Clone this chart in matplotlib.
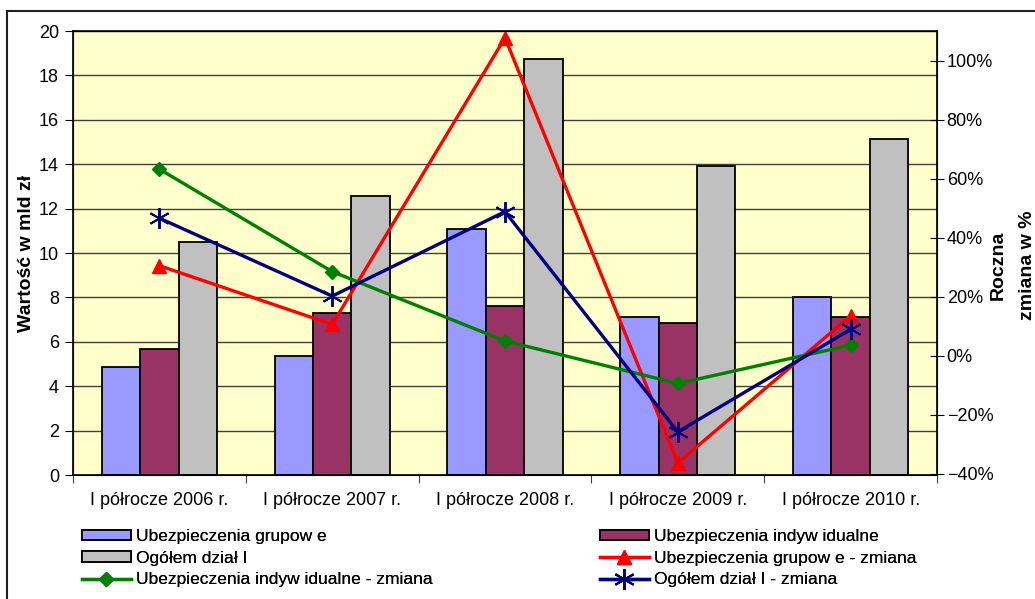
import numpy as np
import matplotlib
matplotlib.use("Agg")
from matplotlib import pyplot as plt
from matplotlib.patches import Patch
from matplotlib.lines import Line2D
from matplotlib.ticker import FixedLocator, PercentFormatter

categories = ["I półrocze 2006 r.", "I półrocze 2007 r.", "I półrocze 2008 r.",
              "I półrocze 2009 r.", "I półrocze 2010 r."]

# values in mld zl
grupowe = [4.85, 5.36, 11.07, 7.13, 8.03]
indywidualne = [5.67, 7.28, 7.63, 6.86, 7.12]
ogolem = [10.48, 12.58, 18.74, 13.93, 15.12]

# annual change in %
grupowe_zm = [30.5, 10.6, 107.7, -36.3, 13.5]
indyw_zm = [63.2, 28.5, 5.0, -9.4, 3.6]
ogolem_zm = [46.6, 20.2, 48.8, -25.8, 8.9]

labels = ["Ubezpieczenia grupow e", "Ubezpieczenia indyw idualne", "Ogółem dział I",
          "Ubezpieczenia grupow e - zmiana", "Ubezpieczenia indyw idualne - zmiana",
          "Ogółem dział I - zmiana"]

plt.rcParams["font.family"] = ["Liberation Sans", "DejaVu Sans"]
W, H = 1035, 599
fig = plt.figure(figsize=(W / 100, H / 100), dpi=100)
ax = fig.add_axes([73 / W, 1 - 475 / H, (937 - 73) / W, (475 - 31) / H])
ax.set_facecolor("#FFFFCC")
ax.set_axisbelow(True)

x = np.arange(len(categories))
bw = 0.222
bar_kw = dict(width=bw, edgecolor="black", linewidth=1.3)
ax.bar(x - bw, grupowe, color="#9999FF", **bar_kw)
ax.bar(x, indywidualne, color="#993366", **bar_kw)
ax.bar(x + bw, ogolem, color="#C0C0C0", **bar_kw)

ax.set_ylim(0, 20)
ax.set_xlim(-0.5, len(categories) - 0.5)
ax.set_yticks(np.arange(0, 21, 2))
ax.yaxis.grid(True, color="#404040", linewidth=1)
ax.xaxis.set_major_locator(FixedLocator(np.arange(-0.5, len(categories), 1.0)))
ax.xaxis.set_minor_locator(FixedLocator(x))
ax.set_xticklabels([])
ax.set_xticklabels(categories, minor=True)
ax.tick_params(axis="x", which="major", length=6, color="#404040")
ax.tick_params(axis="x", which="minor", length=0, pad=12, labelsize=13)
ax.tick_params(axis="y", length=6, labelsize=13, pad=4)
for s in ax.spines.values():
    s.set_linewidth(1.2)
ax.set_ylabel("Wartość w mld zł", fontsize=14, fontweight="bold")
ax.yaxis.set_label_coords(-38 / 864, 0.5)

ax2 = ax.twinx()
ax2.plot(x, grupowe_zm, color="#FF0000", lw=2.4, marker="^", ms=10)
ax2.plot(x, indyw_zm, color="#008000", lw=2.4, marker="D", ms=7)
ax2.plot(x, ogolem_zm, color="#000080", lw=2.4, marker=(6, 2, 0), ms=15, mew=1.4)
ax2.set_ylim(-40.4, 110)
ax2.set_yticks(np.arange(-40, 101, 20))
ax2.yaxis.set_major_formatter(PercentFormatter(decimals=0))
ax2.tick_params(axis="y", direction="inout", length=10, labelsize=13, pad=2)

fig.text(998 / W, 1 - 265 / H, "Roczna", rotation=90, fontsize=14,
         fontweight="bold", ha="center", va="center")
fig.text(1027 / W, 1 - 265 / H, "zmiana w %", rotation=90, fontsize=14,
         fontweight="bold", ha="center", va="center")

# figure frame (cropped)
fig.add_artist(Line2D([7 / W, 7 / W], [0, 1 - 11 / H], color="#202020", lw=1.5))
fig.add_artist(Line2D([7 / W, 1], [1 - 11 / H, 1 - 11 / H], color="#202020", lw=1.5))

bar_h = [
    Patch(facecolor="#9999FF", edgecolor="black", linewidth=1.3),
    Patch(facecolor="#993366", edgecolor="black", linewidth=1.3),
    Patch(facecolor="#C0C0C0", edgecolor="black", linewidth=1.3),
]
line_h = [
    Line2D([], [], color="#FF0000", lw=2.4, marker="^", ms=10),
    Line2D([], [], color="#008000", lw=2.4, marker="D", ms=7),
    Line2D([], [], color="#000080", lw=2.4, marker=(6, 2, 0), ms=15, mew=1.4),
]
leg_kw = dict(loc="upper left", frameon=False, fontsize=12.5, handlelength=2.8,
              handleheight=0.55, handletextpad=0.3, labelspacing=0.38,
              borderpad=0, borderaxespad=0, numpoints=1)
cols = [
    ([bar_h[0], bar_h[2], line_h[1]], [labels[0], labels[2], labels[4]], 82),
    ([bar_h[1], line_h[0], line_h[2]], [labels[1], labels[3], labels[5]], 600),
]
for hh, ll, x0 in cols:
    leg = fig.legend(hh, ll, bbox_to_anchor=(x0 / W, 1 - 529 / H), **leg_kw)
    fig.add_artist(leg)

fig.savefig("out.png", dpi=100)
